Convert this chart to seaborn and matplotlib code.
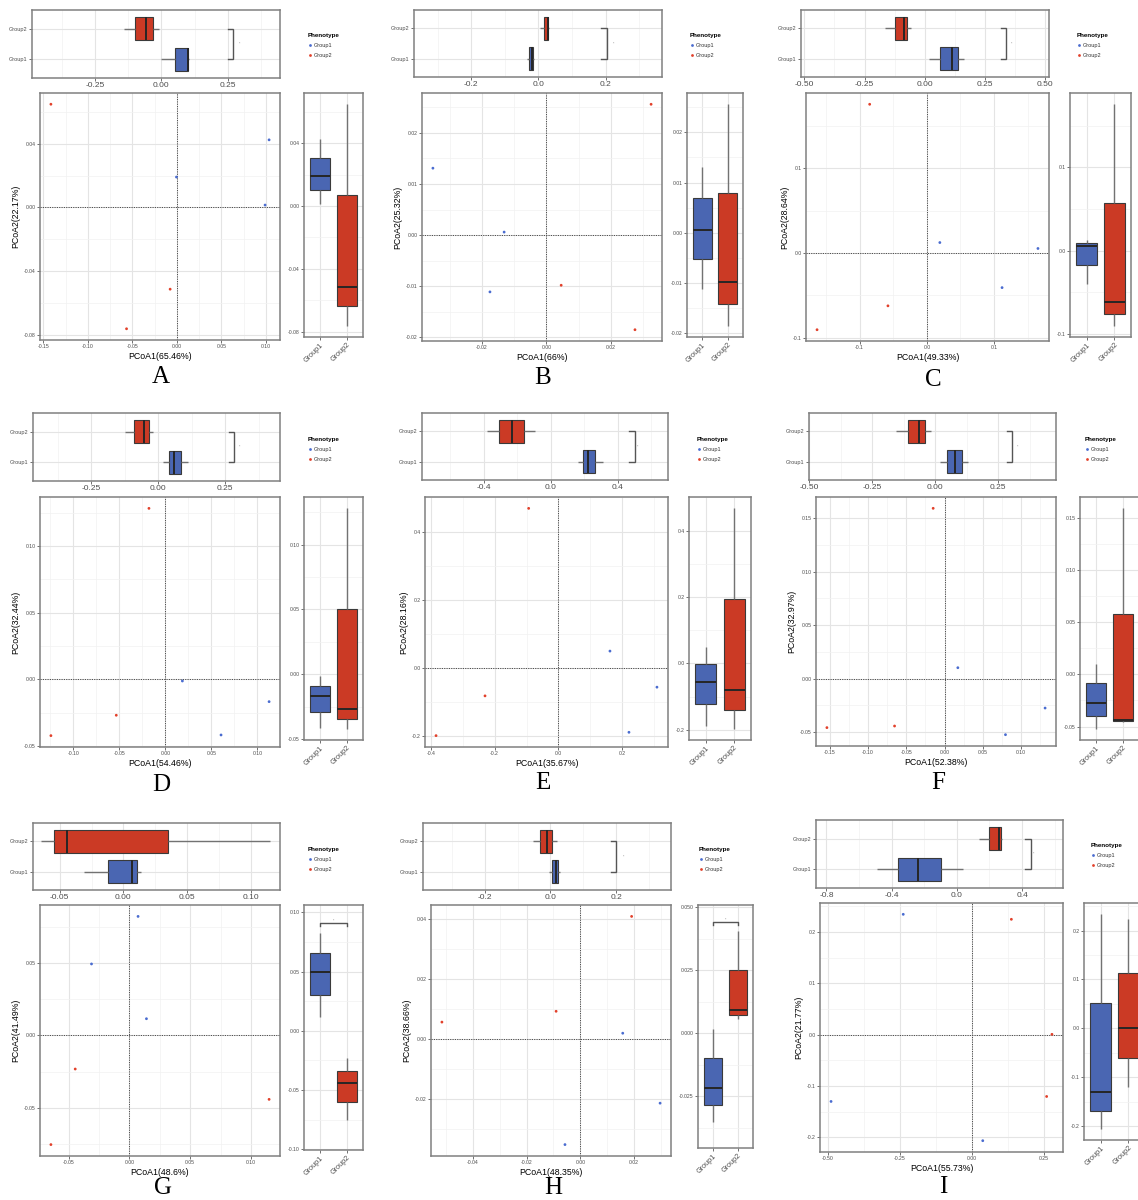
import pandas as pd
import matplotlib
matplotlib.use("Agg")
import matplotlib.pyplot as plt
import seaborn as sns
from matplotlib.ticker import MultipleLocator, FuncFormatter

plt.rcParams["font.family"] = ["Liberation Sans", "DejaVu Sans"]
plt.rcParams["axes.unicode_minus"] = False

# three samples per phenotype in every comparison
GROUPS = ["Group1"] * 3 + ["Group2"] * 3
GROUP_ORDER = ["Group1", "Group2"]

# PCoA coordinates (axis 1, axis 2) for each comparison, Group1 samples first
A_pc1 = [-0.0004, 0.0992, 0.1037, -0.1415, -0.0565, -0.0075]
A_pc2 = [0.0191, 0.0015, 0.0425, 0.0649, -0.0763, -0.0514]
A_titles = ["PCoA1(65.46%)", "PCoA2(22.17%)"]

B_pc1 = [-0.0352, -0.0131, -0.0175, 0.0325, 0.0046, 0.0275]
B_pc2 = [0.0131, 0.0006, -0.0111, 0.0256, -0.0098, -0.0185]
B_titles = ["PCoA1(66%)", "PCoA2(25.32%)"]

C_pc1 = [0.0193, 0.1653, 0.1119, -0.0851, -0.0579, -0.1634]
C_pc2 = [0.0125, 0.0055, -0.0407, 0.1757, -0.0622, -0.0904]
C_titles = ["PCoA1(49.33%)", "PCoA2(28.64%)"]

D_pc1 = [0.0185, 0.1127, 0.0605, -0.0178, -0.0533, -0.1243]
D_pc2 = [-0.0013, -0.0168, -0.0418, 0.1282, -0.0270, -0.0423]
D_titles = ["PCoA1(54.46%)", "PCoA2(32.44%)"]

E_pc1 = [0.1623, 0.3100, 0.2220, -0.0932, -0.2304, -0.3843]
E_pc2 = [0.0499, -0.0558, -0.1880, 0.4680, -0.0813, -0.1978]
E_titles = ["PCoA1(35.67%)", "PCoA2(28.16%)"]

F_pc1 = [0.0174, 0.1313, 0.0796, -0.0148, -0.0652, -0.1535]
F_pc2 = [0.0103, -0.0274, -0.0523, 0.1593, -0.0442, -0.0457]
F_titles = ["PCoA1(52.38%)", "PCoA2(32.97%)"]

G_pc1 = [0.0071, -0.0312, 0.0140, -0.0446, 0.1149, -0.0646]
G_pc2 = [0.0824, 0.0495, 0.0116, -0.0232, -0.0442, -0.0755]
G_titles = ["PCoA1(48.6%)", "PCoA2(41.49%)"]

H_pc1 = [0.0158, 0.0297, -0.0057, 0.0191, -0.0090, -0.0515]
H_pc2 = [0.0018, -0.0215, -0.0353, 0.0407, 0.0091, 0.0055]
H_titles = ["PCoA1(48.35%)", "PCoA2(38.66%)"]

I_pc1 = [-0.2381, -0.4889, 0.0381, 0.1375, 0.2785, 0.2600]
I_pc2 = [0.2343, -0.1301, -0.2065, 0.2246, 0.0006, -0.1204]
I_titles = ["PCoA1(55.73%)", "PCoA2(21.77%)"]

PANELS = {
    "A": (A_pc1, A_pc2, A_titles), "B": (B_pc1, B_pc2, B_titles),
    "C": (C_pc1, C_pc2, C_titles), "D": (D_pc1, D_pc2, D_titles),
    "E": (E_pc1, E_pc2, E_titles), "F": (F_pc1, F_pc2, F_titles),
    "G": (G_pc1, G_pc2, G_titles), "H": (H_pc1, H_pc2, H_titles),
    "I": (I_pc1, I_pc2, I_titles),
}

POINT_COLORS = {"Group1": "#4a6cd0", "Group2": "#e2412b"}
BOX_COLORS = {"Group1": "#4a66b2", "Group2": "#cb3a25"}

# placement of the three axes of every panel, in pixels (left, top, right, bottom)
LAYOUT = {
    "A": dict(top=(32, 10, 280, 78), scat=(40, 93, 280, 340), side=(304, 93, 363, 337),
              leg=(308, 33), letter=(161, 377), top_lim=(-0.489, 0.448), top_step=0.25, top_dec=2,
              bracket=(0.271, 0.294), x_step=0.05, x_dec=2, y_step=0.04, y_dec=2),
    "B": dict(top=(414, 10, 662, 77), scat=(422, 93, 662, 341), side=(687, 93, 743, 337),
              leg=(690, 33), letter=(543, 378), top_lim=(-0.370, 0.368), top_step=0.2, top_dec=1,
              bracket=(0.204, 0.224), x_step=0.02, x_dec=2, y_step=0.01, y_dec=2),
    "C": dict(top=(801, 10, 1049, 77), scat=(806, 93, 1049, 341), side=(1070, 93, 1131, 337),
              leg=(1077, 33), letter=(933, 380), top_lim=(-0.514, 0.517), top_step=0.25, top_dec=2,
              bracket=(0.339, 0.36), x_step=0.1, x_dec=1, y_step=0.1, y_dec=1),
    "D": dict(top=(33, 413, 280, 481), scat=(40, 497, 280, 747), side=(304, 497, 363, 740),
              leg=(308, 437), letter=(161, 785), top_lim=(-0.468, 0.455), top_step=0.25, top_dec=2,
              bracket=(0.284, 0.303), x_step=0.05, x_dec=2, y_step=0.05, y_dec=2),
    "E": dict(top=(422, 413, 668, 480), scat=(425, 497, 668, 747), side=(689, 497, 751, 740),
              leg=(697, 437), letter=(543, 783), top_lim=(-0.77, 0.699), top_step=0.4, top_dec=1,
              bracket=(0.50, 0.52), x_step=0.2, x_dec=1, y_step=0.2, y_dec=1),
    "F": dict(top=(809, 413, 1056, 480), scat=(816, 497, 1056, 746), side=(1080, 497, 1139, 740),
              leg=(1085, 437), letter=(938, 783), top_lim=(-0.50, 0.479), top_step=0.25, top_dec=2,
              bracket=(0.305, 0.325), x_step=0.05, x_dec=2, y_step=0.05, y_dec=2),
    "G": dict(top=(33, 823, 280, 890), scat=(40, 905, 280, 1156), side=(304, 905, 363, 1150),
              leg=(308, 847), letter=(163, 1188), top_lim=(-0.071, 0.123), top_step=0.05, top_dec=2,
              bracket=None, x_step=0.05, x_dec=2, y_step=0.05, y_dec=2,
              side_lim=(-0.1007, 0.1063), side_bracket=0.0907),
    "H": dict(top=(423, 823, 671, 890), scat=(431, 905, 671, 1156), side=(698, 905, 753, 1148),
              leg=(699, 847), letter=(553, 1188), top_lim=(-0.387, 0.366), top_step=0.2, top_dec=1,
              bracket=(0.2005, 0.221), x_step=0.02, x_dec=2, y_step=0.02, y_dec=2,
              side_lim=(-0.0454, 0.0508), side_bracket=0.0439, side_step=0.025, side_dec=3),
    "I": dict(top=(816, 820, 1063, 888), scat=(820, 903, 1063, 1152), side=(1084, 903, 1145, 1140),
              leg=(1091, 843), letter=(943, 1187), top_lim=(-0.864, 0.651), top_step=0.4, top_dec=1,
              bracket=(0.4526, 0.473), x_step=0.25, x_dec=2, y_step=0.1, y_dec=1),
}

W, H = 1138, 1200
fig = plt.figure(figsize=(W / 100, H / 100), dpi=100)
fig.patch.set_facecolor("white")

GRID_MAJOR = "#e4e4e4"
GRID_MINOR = "#f2f2f2"
TICK_TEXT = "#4d4d4d"


def px_axes(box):
    l, t, r, b = box
    return fig.add_axes([l / W, 1 - b / H, (r - l) / W, (b - t) / H])


def number_format(dec):
    def f(v, pos):
        if abs(v) < 1e-12:
            v = 0.0
        return f"{v:.{dec}f}"
    return FuncFormatter(f)


def bw_frame(ax):
    ax.set_facecolor("white")
    for sp in ax.spines.values():
        sp.set_color("#808080")
        sp.set_linewidth(1.1)
    ax.set_axisbelow(True)
    ax.tick_params(which="major", length=2.0, width=0.6, color="#5a5a5a",
                   labelcolor=TICK_TEXT, pad=1.2)
    ax.tick_params(which="minor", length=0)


def value_axis(axis, step, dec):
    axis.set_major_locator(MultipleLocator(step))
    axis.set_minor_locator(MultipleLocator(step / 2))
    axis.set_major_formatter(number_format(dec))
    axis.grid(True, which="major", color=GRID_MAJOR, lw=0.8)
    axis.grid(True, which="minor", color=GRID_MINOR, lw=0.5)


def expand(vals, mult=0.05):
    lo, hi = min(vals), max(vals)
    pad = (hi - lo) * mult
    return lo - pad, hi + pad


BOX_KW = dict(hue="Group", hue_order=GROUP_ORDER, palette=BOX_COLORS, saturation=1,
              width=0.75, linecolor="#3a3a3a", linewidth=0.8, fliersize=0, showcaps=False,
              whiskerprops=dict(color="#727272", linewidth=1.0),
              medianprops=dict(color="#262626", linewidth=1.4), legend=False)


def draw_panel(key):
    pc1, pc2, titles = PANELS[key]
    L = LAYOUT[key]
    df = pd.DataFrame({"PCoA1": pc1, "PCoA2": pc2, "Group": GROUPS})

    # distribution along the first axis
    ax_t = px_axes(L["top"])
    bw_frame(ax_t)
    sns.boxplot(data=df, x="PCoA1", y="Group", order=["Group2", "Group1"], orient="h",
                ax=ax_t, **BOX_KW)
    ax_t.set_xlim(*L["top_lim"])
    ax_t.set_ylim(1.6, -0.6)
    value_axis(ax_t.xaxis, L["top_step"], L["top_dec"])
    ax_t.yaxis.grid(True, which="major", color=GRID_MAJOR, lw=0.8)
    ax_t.set_xlabel("")
    ax_t.set_ylabel("")
    ax_t.tick_params(axis="x", labelsize=6)
    ax_t.tick_params(axis="y", labelsize=4)
    if L["bracket"]:
        xb, xm = L["bracket"]
        tk = 0.022 * (L["top_lim"][1] - L["top_lim"][0])
        ax_t.plot([xb - tk, xb, xb, xb - tk], [0, 0, 1, 1], color="#555555", lw=1.0,
                  solid_joinstyle="miter")
        ax_t.text(xm, 0.5, "*", fontsize=2.5, color="#888888", ha="center", va="center")

    # ordination scatter
    ax_p = px_axes(L["scat"])
    bw_frame(ax_p)
    ax_p.axhline(0, color="#4d4d4d", lw=0.7, ls=(0, (1.2, 1.2)), zorder=1.5)
    ax_p.axvline(0, color="#4d4d4d", lw=0.7, ls=(0, (1.2, 1.2)), zorder=1.5)
    sns.scatterplot(data=df, x="PCoA1", y="PCoA2", hue="Group", hue_order=GROUP_ORDER,
                    palette=POINT_COLORS, s=4, linewidth=0, ax=ax_p, zorder=3)
    ax_p.set_xlim(*expand(pc1 + [0]))
    ax_p.set_ylim(*expand(pc2 + [0]))
    value_axis(ax_p.xaxis, L["x_step"], L["x_dec"])
    value_axis(ax_p.yaxis, L["y_step"], L["y_dec"])
    ax_p.tick_params(labelsize=3.7)
    ax_p.set_xlabel(titles[0], fontsize=6.3, labelpad=1.5, color="black")
    ax_p.set_ylabel(titles[1], fontsize=6.3, labelpad=2.5, color="black")

    old = ax_p.get_legend()
    handles = old.legend_handles
    labels = [t.get_text() for t in old.get_texts()]
    old.remove()
    lx, ly = L["leg"]
    leg = ax_p.legend(handles, labels, title="Phenotype", loc="upper left",
                      bbox_to_anchor=(lx / W, 1 - ly / H), bbox_transform=fig.transFigure,
                      frameon=False, fontsize=4, title_fontsize=4.5, alignment="left",
                      borderpad=0, borderaxespad=0, handletextpad=0.3, handlelength=0.8,
                      labelspacing=0.9)
    leg.get_title().set_fontweight("bold")
    for t in leg.get_texts():
        t.set_color("#333333")

    # distribution along the second axis
    ax_s = px_axes(L["side"])
    bw_frame(ax_s)
    sns.boxplot(data=df, x="Group", y="PCoA2", order=GROUP_ORDER, orient="v",
                ax=ax_s, **BOX_KW)
    ax_s.set_xlim(-0.6, 1.6)
    ax_s.set_ylim(*L.get("side_lim", expand(pc2 + [0])))
    value_axis(ax_s.yaxis, L.get("side_step", L["y_step"]), L.get("side_dec", L["y_dec"]))
    ax_s.xaxis.grid(True, which="major", color=GRID_MAJOR, lw=0.8)
    ax_s.set_xlabel("")
    ax_s.set_ylabel("")
    ax_s.tick_params(axis="y", labelsize=3.7)
    ax_s.tick_params(axis="x", labelsize=5.2)
    plt.setp(ax_s.get_xticklabels(), rotation=45, ha="right", rotation_mode="anchor")
    if "side_bracket" in L:
        yb = L["side_bracket"]
        lo, hi = ax_s.get_ylim()
        tk = 0.01 * (hi - lo)
        ax_s.plot([0, 0, 1, 1], [yb - tk, yb, yb, yb - tk], color="#555555", lw=1.0)
        ax_s.text(0.5, yb + 0.3 * tk, "*", fontsize=2.5, color="#888888", ha="center",
                  va="bottom")

    cx, cy = L["letter"]
    fig.text(cx / W, 1 - cy / H, key, family="Liberation Serif", fontsize=18,
             ha="center", va="center", color="black")


for k in PANELS:
    draw_panel(k)

fig.savefig("out.png", dpi=100, facecolor="white")
